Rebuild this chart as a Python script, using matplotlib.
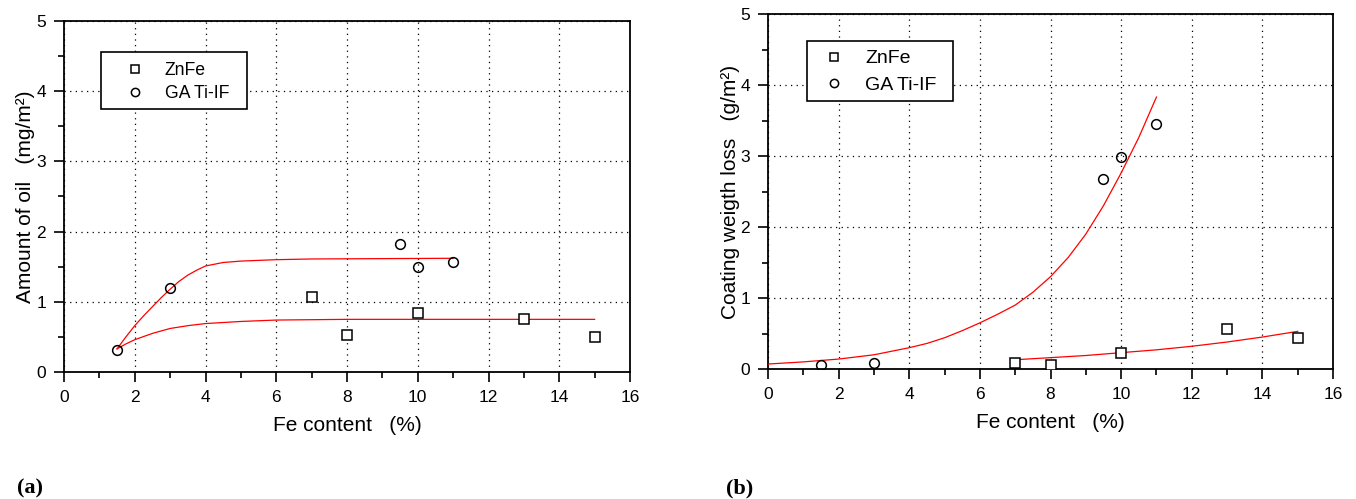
import matplotlib
matplotlib.use("Agg")
import matplotlib.pyplot as plt
from matplotlib.ticker import MultipleLocator
from matplotlib.patches import Rectangle

plt.rcParams['font.family'] = ['Liberation Sans', 'DejaVu Sans']

# ---------------- data (a) ----------------
a_znfe_x = [7, 8, 10, 13, 15]
a_znfe_y = [1.07, 0.53, 0.84, 0.76, 0.50]
a_ga_x = [1.5, 3, 9.5, 10, 11]
a_ga_y = [0.32, 1.19, 1.82, 1.49, 1.56]
a_fit_ga_x = [1.5, 1.75, 2, 2.25, 2.5, 2.75, 3, 3.25, 3.5, 3.75, 4, 4.5, 5, 6, 7, 11]
a_fit_ga_y = [0.33, 0.50, 0.66, 0.80, 0.93, 1.06, 1.18, 1.29, 1.38, 1.45, 1.51,
              1.56, 1.58, 1.60, 1.61, 1.62]
a_fit_zn_x = [1.5, 1.75, 2, 2.5, 3, 3.5, 4, 5, 6, 8, 15]
a_fit_zn_y = [0.33, 0.40, 0.46, 0.55, 0.62, 0.66, 0.69, 0.72, 0.74, 0.75, 0.75]

# ---------------- data (b) ----------------
b_znfe_x = [7, 8, 10, 13, 15]
b_znfe_y = [0.09, 0.06, 0.22, 0.57, 0.44]
b_ga_x = [1.5, 3, 9.5, 10, 11]
b_ga_y = [0.05, 0.08, 2.68, 2.98, 3.45]
b_fit_ga_x = [0, 1, 2, 3, 4, 4.5, 5, 5.5, 6, 6.5, 7, 7.5, 8, 8.5, 9, 9.5, 10,
              10.5, 11]
b_fit_ga_y = [0.07, 0.10, 0.14, 0.20, 0.30, 0.36, 0.44, 0.54, 0.65, 0.77, 0.90,
              1.08, 1.30, 1.57, 1.90, 2.30, 2.76, 3.26, 3.83]
b_fit_zn_x = [7, 8, 9, 10, 11, 12, 13, 14, 15]
b_fit_zn_y = [0.13, 0.16, 0.19, 0.23, 0.27, 0.32, 0.38, 0.45, 0.53]

series_labels = ["ZnFe", "GA Ti-IF"]
x_label = "Fe content   (%)"
y_label_a = "Amount of oil   (mg/m\u00b2)"
y_label_b = "Coating weigth loss   (g/m\u00b2)"

fig = plt.figure(figsize=(13.56, 4.99), dpi=100)
ax_a = fig.add_axes([64/1356, 1-372/499, 566/1356, 351/499])
ax_b = fig.add_axes([768/1356, 1-369/499, 565/1356, 355/499])


def style(ax, ylabel, ylabelpad):
    ax.set_xlim(0, 16)
    ax.set_ylim(0, 5)
    ax.xaxis.set_major_locator(MultipleLocator(2))
    ax.xaxis.set_minor_locator(MultipleLocator(1))
    ax.yaxis.set_major_locator(MultipleLocator(1))
    ax.yaxis.set_minor_locator(MultipleLocator(0.5))
    ax.tick_params(which='major', direction='out', length=7, width=1.2,
                   labelsize=12.5, pad=6, top=False, right=False)
    ax.tick_params(which='minor', direction='out', length=4, width=1.2,
                   top=False, right=False)
    for s in ax.spines.values():
        s.set_linewidth(1.3)
    ax.grid(True, which='major', color='black', linestyle=(0, (1, 3.5)),
            linewidth=0.9)
    ax.set_axisbelow(True)
    ax.set_xlabel(x_label, fontsize=15, labelpad=8)
    ax.set_ylabel(ylabel, fontsize=15, labelpad=ylabelpad)


def draw(ax, zx, zy, gx, gy, fzx, fzy, fgx, fgy, box, anchor, fs, ls, htp, ms):
    ax.plot(fgx, fgy, color='red', lw=0.9, zorder=3)
    ax.plot(fzx, fzy, color='red', lw=0.9, zorder=3)
    ax.plot(zx, zy, linestyle='none', marker='s', ms=6.5, mfc='white',
            mec='black', mew=1.1, zorder=4, label=series_labels[0])
    ax.plot(gx, gy, linestyle='none', marker='o', ms=7, mfc='none',
            mec='black', mew=1.1, zorder=4, label=series_labels[1])
    x0, y0, x1, y1 = box
    ax.add_patch(Rectangle((x0, y0), x1 - x0, y1 - y0, transform=ax.transAxes,
                           facecolor='white', edgecolor='black', lw=1.2,
                           zorder=5))
    leg = ax.legend(loc='center left', bbox_to_anchor=anchor, fontsize=fs,
                    frameon=False, markerscale=ms, handlelength=1.5,
                    handletextpad=htp, borderpad=0, labelspacing=ls,
                    borderaxespad=0)
    leg.set_zorder(6)


style(ax_a, y_label_a, 1)
style(ax_b, y_label_b, 0.5)
draw(ax_a, a_znfe_x, a_znfe_y, a_ga_x, a_ga_y, a_fit_zn_x, a_fit_zn_y,
     a_fit_ga_x, a_fit_ga_y, (0.0654, 0.7493, 0.3233, 0.9117),
     (0.1025, 0.8265), 12.7, 0.36, 0.92, 0.85)
draw(ax_b, b_znfe_x, b_znfe_y, b_ga_x, b_ga_y, b_fit_zn_x, b_fit_zn_y,
     b_fit_ga_x, b_fit_ga_y, (0.069, 0.755, 0.327, 0.924),
     (0.091, 0.8366), 14, 0.47, 0.86, 0.85)

fig.text(17/1356, 1-488/499, "(a)", fontsize=16, fontweight='bold',
         family='Liberation Serif', ha='left', va='center')
fig.text(726/1356, 1-488/499, "(b)", fontsize=16, fontweight='bold',
         family='Liberation Serif', ha='left', va='center')

fig.savefig("out.png", dpi=100)
